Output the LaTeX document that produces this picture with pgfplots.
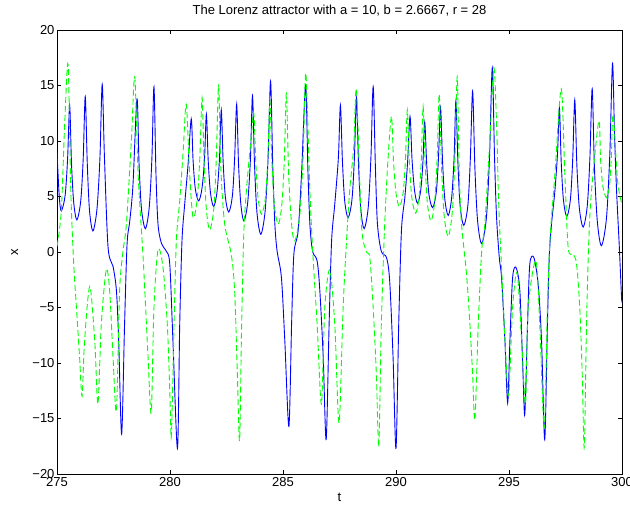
\documentclass[border=0pt]{standalone}
\usepackage{fontspec}
\setmainfont{Liberation Sans}
\usepackage{pgfplots}
\pgfplotsset{compat=1.18}

% values
\pgfplotstableread{
t x
275.00 9.0
275.10 5.0
275.19 3.7
275.36 5.1
275.47 8.45
275.56 13.2
275.64 8.05
275.74 4.45
275.88 2.9
276.05 4.6
276.16 8.45
276.25 14.0
276.34 7.95
276.44 3.7
276.59 1.9
276.77 3.9
276.90 8.5
277.00 15.1
277.10 8.5
277.26 0.4
277.48 -1.3
277.63 -3.5
277.73 -8
277.86 -16.4
277.99 -6.5
278.10 0.7
278.22 2.8
278.36 6
278.54 13.8
278.63 7.95
278.74 3.85
278.91 2.1
279.08 4.0
279.20 8.5
279.29 14.9
279.38 7.0
279.47 2.5
279.62 0.8
279.84 0.06
279.99 -1.1
280.13 -8
280.33 -17.7
280.43 -6.5
280.53 1
280.65 4.3
280.80 7.9
280.94 12.0
281.02 8.3
281.12 5.7
281.27 4.6
281.42 5.8
281.53 8.5
281.61 12.4
281.69 8.25
281.79 5.35
281.93 4.1
282.08 5.4
282.19 8.45
282.27 12.8
282.35 8.2
282.45 4.95
282.60 3.6
282.76 5.05
282.86 8.45
282.95 13.3
283.03 8.05
283.13 4.4
283.27 2.8
283.44 4.5
283.56 8.45
283.65 14.1
283.74 7.85
283.85 3.5
284.02 1.6
284.21 3.7
284.34 8.5
284.45 15.4
284.55 7.5
284.64 2.5
284.74 0.06
284.93 -2.3
285.08 -8
285.26 -15.7
285.38 -6.5
285.48 -0.2
285.67 1.9
285.82 7
286.00 15.0
286.10 7.5
286.19 2.5
286.31 0.06
286.51 -0.8
286.63 -3.5
286.78 -9.5
286.91 -16.9
287.04 -6.5
287.15 1
287.29 4.3
287.45 8.5
287.54 13.2
287.63 8.15
287.73 4.6
287.88 3.1
288.05 4.7
288.16 8.5
288.25 13.9
288.34 8.0
288.44 3.9
288.59 2.1
288.77 4.0
288.89 8.5
288.99 14.9
289.09 7.5
289.18 2.5
289.35 0.06
289.58 -0.5
289.72 -2.6
289.87 -9.5
290.00 -17.7
290.12 -6.5
290.24 1.9
290.39 4.9
290.51 8.0
290.62 12.2
290.71 8.3
290.82 5.55
290.95 4.4
291.09 5.5
291.19 8.05
291.27 11.7
291.36 7.85
291.46 5.15
291.62 4.0
291.78 5.35
291.88 8.5
291.97 13.0
292.06 8.15
292.16 4.75
292.31 3.3
292.46 4.85
292.57 8.45
292.65 13.6
292.74 8.0
292.84 4.1
293.00 2.4
293.18 4.2
293.29 8.45
293.39 14.5
293.49 7.6
293.61 2.8
293.79 0.75
294.00 3.1
294.14 8.7
294.26 16.6
294.36 8.5
294.45 3.1
294.57 -0.5
294.67 -2.3
294.82 -8
294.94 -13.6
295.04 -8
295.16 -2.3
295.31 -1.4
295.48 -3.5
295.62 -11
295.70 -14.6
295.82 -6.5
295.92 -1.1
296.10 -0.5
296.29 -2.9
296.44 -8
296.58 -16.9
296.70 -6.5
296.78 -0.5
296.88 2.5
297.03 5.5
297.15 9.0
297.23 13.0
297.31 8.1
297.41 4.65
297.56 3.2
297.72 4.8
297.82 8.45
297.91 13.7
298.00 7.95
298.11 4.0
298.28 2.25
298.46 4.1
298.58 8.5
298.68 14.7
298.78 7.6
298.91 2.7
299.09 0.57
299.31 3.0
299.46 8.8
299.58 17.0
299.67 10.5
299.76 5.5
299.88 0.5
299.98 -4.1
300.00 -4.3
}\xdata

\pgfplotstableread{
t y
275.00 0.5
275.19 3.7
275.34 11.5
275.49 16.9
275.61 5.5
275.74 -1.1
275.86 -5
276.00 -9.5
276.11 -13
276.22 -8
276.45 -3.1
276.67 -8
276.81 -13.7
276.96 -6.5
277.18 -1.6
277.33 -3.5
277.48 -9.5
277.63 -14.3
277.77 -3.5
277.92 0.06
278.07 2.5
278.29 10
278.44 15.8
278.59 7
278.81 -0.5
278.90 -4.1
279.03 -9.5
279.17 -14.5
279.29 -5
279.47 0.2
279.69 -1.4
279.88 -6.5
279.99 -12.5
280.06 -16.6
280.18 -6.5
280.28 1
280.43 4.6
280.58 9
280.72 13.3
280.87 7
281.02 3.1
281.20 4.7
281.32 8.5
281.42 13.9
281.51 7.95
281.61 3.8
281.76 2.0
281.94 3.95
282.05 8.5
282.15 15.0
282.25 7.5
282.42 2.5
282.71 -0.2
282.86 -3.5
282.98 -11
283.08 -17
283.17 -6.5
283.27 1.9
283.40 6
283.62 11
283.71 12.5
283.80 7.95
283.90 4.8
284.05 3.4
284.22 4.9
284.33 8.5
284.42 13.6
284.51 8.05
284.62 4.2
284.79 2.5
284.95 4.3
285.06 8.4
285.15 14.3
285.25 7
285.38 2.5
285.52 1.0
285.74 3.3
285.89 8.5
286.01 16.1
286.19 5.5
286.33 -0.5
286.51 -6.5
286.70 -13.7
286.85 -5
287.07 -1.6
287.29 -6.5
287.48 -15.4
287.66 -5
287.81 1
287.95 5.5
288.13 9.5
288.25 14.6
288.47 2.5
288.69 0.06
288.84 -0.5
288.99 -5
289.13 -11
289.24 -17.5
289.35 -6.5
289.50 2.5
289.65 8.5
289.80 12.2
289.89 8.15
290.00 5.3
290.15 4.1
290.32 5.4
290.42 8.45
290.50 12.8
290.59 8.15
290.70 4.9
290.87 3.5
291.02 4.95
291.12 8.3
291.20 13.1
291.29 7.95
291.39 4.35
291.55 2.8
291.71 4.5
291.82 8.5
291.91 14.2
292.01 7.8
292.13 3.3
292.31 1.4
292.49 3.6
292.61 8.6
292.71 15.8
292.80 7
292.90 2.5
293.12 -2
293.27 -6.5
293.39 -11
293.49 -15.1
293.64 -6.5
293.79 0.06
293.93 2.5
294.15 10
294.33 16.6
294.45 11.5
294.55 4
294.72 -3.5
294.86 -9.5
294.99 -12.8
295.16 -5
295.36 -1.9
295.56 -8
295.73 -13.7
295.85 -5
296.19 -0.8
296.36 -6.5
296.56 -15.8
296.70 -5
296.81 1
297.03 7
297.31 14.7
297.47 7
297.62 0.36
297.84 -0.2
297.99 -1.1
298.13 -5
298.24 -11
298.33 -17.6
298.43 -6.5
298.53 1
298.65 5.5
298.97 11.8
299.05 8.4
299.15 5.95
299.31 4.9
299.45 6.0
299.53 8.65
299.61 12.4
299.80 6.5
299.98 4.4
300.00 4.3
}\ydata

\begin{document}
\begin{tikzpicture}
\begin{axis}[
    name=ax,
    scale only axis,
    width=565pt, height=444pt,
    xmin=275, xmax=300, ymin=-20, ymax=20,
    xtick={275,280,...,300},
    ytick={-20,-15,...,20},
    yticklabels={−20,−15,−10,−5,0,5,10,15,20},
    tick align=inside,
    xtick pos=both, ytick pos=both,
    major tick length=4pt,
    axis line style={line width=0.6pt},
    tick style={black, line width=0.5pt},
    /pgf/number format/assume math mode=true,
    ticklabel style={font=\fontsize{13}{15}\selectfont},
    yticklabel style={xshift=1pt},
    title={The Lorenz attractor with a = 10, b = 2.6667, r = 28},
    title style={font=\fontsize{13}{15}\selectfont, at={(axis description cs:0.5,1.03)}, anchor=center},
    xlabel={t}, ylabel={x},
    xlabel style={font=\fontsize{13}{15}\selectfont, at={(axis description cs:0.5,-0.053)}, anchor=center},
    ylabel style={font=\fontsize{13}{15}\selectfont, at={(axis description cs:-0.075,0.5)}, anchor=center},
]
\addplot[blue, line width=0.9pt, smooth, tension=0.5] table[x=t, y=x] {\xdata};
\addplot[color={rgb,255:red,0;green,255;blue,0}, line width=0.9pt, dash pattern=on 6pt off 3pt, smooth, tension=0.5] table[x=t, y=y] {\ydata};
\end{axis}
\pgfresetboundingbox
\path[use as bounding box] ([xshift=-57pt, yshift=-31pt]ax.south west) rectangle ([xshift=8pt, yshift=30pt]ax.north east);
\end{tikzpicture}
\end{document}
